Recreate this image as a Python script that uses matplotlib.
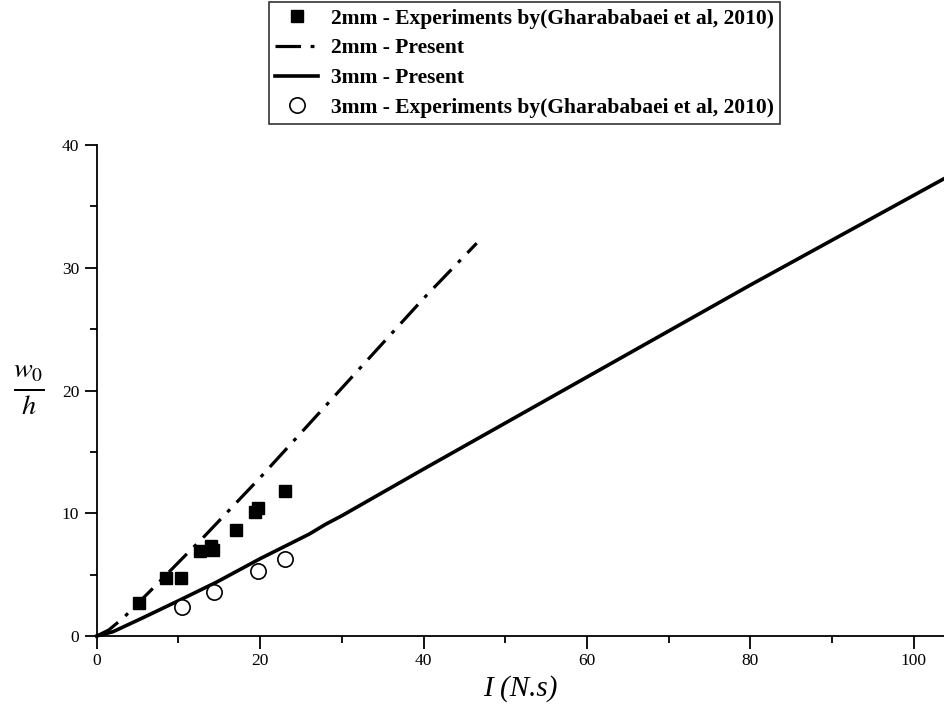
import matplotlib.pyplot as plt
import numpy as np

# experiment data (Gharababaei et al, 2010)
exp_2mm_x = [5.2, 8.5, 10.3, 12.6, 14.0, 14.2, 17.0, 19.4, 19.7, 23.0]
exp_2mm_y = [2.7, 4.75, 4.7, 6.9, 7.3, 7.0, 8.6, 10.1, 10.4, 11.8]
exp_3mm_x = [10.4, 14.4, 19.8, 23.0]
exp_3mm_y = [2.4, 3.6, 5.3, 6.25]

# present model curves
pres_2mm_x = [0, 1.5, 3.3, 7.2, 10.9, 13.0, 20.0, 30.0, 40.0, 46.5]
pres_2mm_y = [0, 0.5, 1.5, 4.1, 6.6, 8.0, 12.9, 20.2, 27.5, 32.0]
pres_3mm_x = [0, 2.0, 5.7, 10.4, 14.7, 20.0, 24.5, 26.0, 28.0, 30.0, 40.0, 60.0, 80.0, 103.8]
pres_3mm_y = [0, 0.35, 1.5, 3.0, 4.4, 6.3, 7.8, 8.3, 9.1, 9.8, 13.6, 21.1, 28.6, 37.3]

plt.rcParams['font.family'] = ['Liberation Serif', 'DejaVu Serif']
plt.rcParams['mathtext.fontset'] = 'stix'

fig = plt.figure(figsize=(9.45, 7.07), dpi=100)
ax = fig.add_axes([0.1023, 0.1004, 0.8977, 0.6945])

ax.plot(exp_2mm_x, exp_2mm_y, 's', color='black', markersize=8.5,
        label='2mm - Experiments by(Gharababaei et al, 2010)')
ax.plot(pres_2mm_x, pres_2mm_y, color='black', linewidth=2.3,
        dashes=(8, 3, 1.2, 3), label='2mm - Present')
ax.plot(pres_3mm_x, pres_3mm_y, color='black', linewidth=2.6,
        label='3mm - Present', clip_on=False)
ax.plot(exp_3mm_x, exp_3mm_y, 'o', markerfacecolor='white', markeredgecolor='black',
        markeredgewidth=1.2, markersize=11, label='3mm - Experiments by(Gharababaei et al, 2010)')

ax.set_xlim(0, 103.8)
ax.set_ylim(0, 40)
ax.set_xticks([0, 20, 40, 60, 80, 100])
ax.set_xticks(np.arange(10, 104, 20), minor=True)
ax.set_yticks([0, 10, 20, 30, 40])
ax.set_yticks([5, 15, 25, 35], minor=True)
ax.spines['top'].set_visible(False)
ax.spines['right'].set_visible(False)
ax.spines['left'].set_linewidth(1.3)
ax.spines['bottom'].set_linewidth(1.3)
ax.tick_params(which='major', direction='out', length=9, width=1.3, labelsize=12.5)
ax.tick_params(which='minor', direction='out', length=5, width=1.3)

ax.set_xlabel('I (N.s)', fontsize=21, fontstyle='italic', labelpad=4)
ax.set_ylabel(r'$\frac{w_{\mathrm{0}}}{h}$', fontsize=29, rotation=0, va='center')
ax.yaxis.set_label_coords(-0.08, 0.5)

leg = fig.legend(loc='upper center', bbox_to_anchor=(0.555, 0.997), frameon=True,
                 fancybox=False, edgecolor='black', handlelength=2.0, handletextpad=0.6,
                 borderpad=0.3, labelspacing=0.45, borderaxespad=0,
                 prop={'weight': 'bold', 'size': 15.5})
leg.get_frame().set_linewidth(1.2)

fig.savefig('out.png', dpi=100)
